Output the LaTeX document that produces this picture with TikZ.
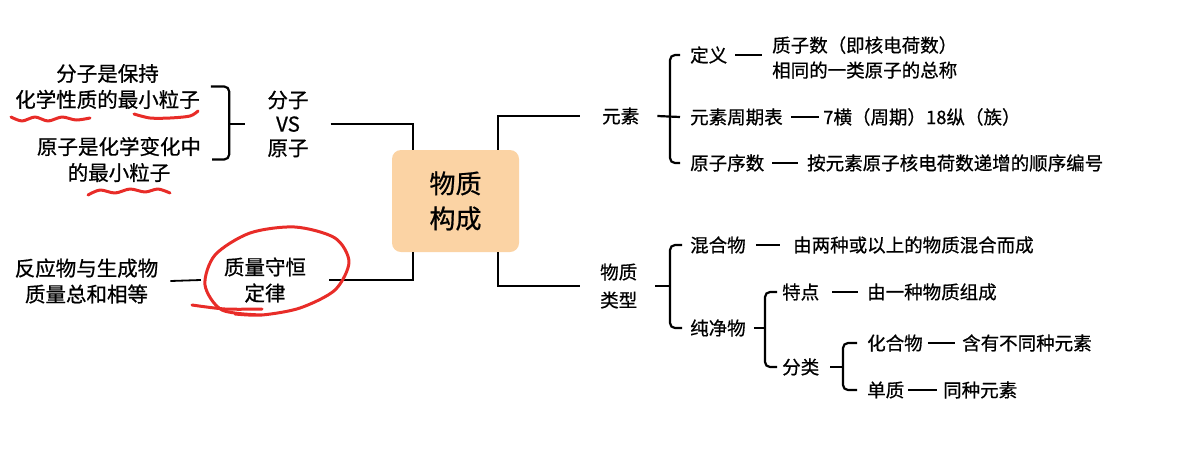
\documentclass[tikz,border=0pt]{standalone}
\usepackage{fontspec}
\setmainfont[FakeBold=0.7]{Noto Sans CJK SC}
\usetikzlibrary{positioning}
\definecolor{corefill}{RGB}{251,211,164}
\definecolor{penred}{RGB}{232,44,40}

\begin{document}
\begin{tikzpicture}[
  x=1pt, y=-1pt,
  lt/.style={inner sep=0pt,align=center,font=\fontsize{20.5}{26}\selectfont},
  rt/.style={inner sep=0pt,align=left,anchor=west,font=\fontsize{18.5}{25}\selectfont},
  ln/.style={line width=2.2pt},
  link/.style={line width=1.8pt},
  brace/.style={line width=2.2pt,rounded corners=5pt},
  redpen/.style={draw=penred,line width=3pt,line cap=round,line join=round}
]
\useasboundingbox (0,0) rectangle (1191,456);

\node[fill=corefill,rounded corners=9pt,minimum width=127pt,minimum height=102pt,
  align=center,font=\fontsize{26}{35}\selectfont] (core) at (455.5,201) {物质\\构成};

% left side
\node[lt] (m1) at (107.5,86.5) {分子是保持\\化学性质的最小粒子};
\node[lt] (m2) at (119,159.5) {原子是化学变化中\\的最小粒子};
\node[lt,font=\fontsize{20.5}{24}\selectfont] (vs) at (288,124) {分子\\VS\\原子};
\node[lt] (rl) at (86.5,281) {反应物与生成物\\质量总和相等};
\node[lt] (zl) at (265,280) {质量守恒\\定律};

\draw[brace] ([xshift=11pt]m1.east) -| ([xshift=28pt]m2.east) -- ([xshift=11pt]m2.east);
\draw[ln] ([xshift=-38pt]vs.west) -- ([xshift=-22pt]vs.west);
\draw[ln] ([xshift=22pt]vs.east) -| ([xshift=21pt]core.north west);
\draw[link] ([xshift=12pt]rl.east) -- ([xshift=-23pt]zl.west);
\draw[ln] ([xshift=23pt]zl.east) -| ([xshift=21pt]core.south west);

% right side: elements
\node[rt] (ys) at (602,116) {元素};
\node[rt] (def) at (690,55) {定义};
\node[rt] (per) at (690,117) {元素周期表};
\node[rt] (ord) at (690,163) {原子序数};
\node[rt] (defx) at (772,57.5) {质子数（即核电荷数）\\相同的一类原子的总称};
\node[rt] (perx) at (823,117) {7横（周期）18纵（族）};
\node[rt] (ordx) at (807,163) {按元素原子核电荷数递增的顺序编号};

\draw[ln] ([xshift=-21pt]core.north east) |- ([xshift=-22pt]ys.west);
\draw[brace] ([xshift=-10pt]def.west) -| ([xshift=-20pt]ord.west) -- ([xshift=-10pt]ord.west);
\draw[ln] ([xshift=18pt]ys.east) -- ([xshift=-10pt]per.west);
\draw[link] ([xshift=8pt]def.east) -- ([xshift=-10pt]def.east -| defx.west);
\draw[link] ([xshift=8pt]per.east) -- ([xshift=-4pt]perx.west);
\draw[link] ([xshift=8pt]ord.east) -- ([xshift=-9pt]ordx.west);

% right side: types
\node[rt,font=\fontsize{18.5}{28}\selectfont] (ts) at (600,286) {物质\\类型};
\node[rt] (mix) at (690,245) {混合物};
\node[rt] (pure) at (690,328) {纯净物};
\node[rt] (mixx) at (793,245) {由两种或以上的物质混合而成};
\node[rt] (feat) at (782,292) {特点};
\node[rt] (cls) at (782,367) {分类};
\node[rt] (featx) at (867,292) {由一种物质组成};
\node[rt] (cmp) at (867,343) {化合物};
\node[rt] (ele) at (867,390) {单质};
\node[rt] (cmpx) at (962,343) {含有不同种元素};
\node[rt] (elex) at (943,390) {同种元素};

\draw[ln] ([xshift=-21pt]core.south east) |- ([xshift=-20pt]ts.west);
\draw[brace] ([xshift=-8pt]mix.west) -| ([xshift=-20pt]pure.west) -- ([xshift=-8pt]pure.west);
\draw[ln] ([xshift=18pt]ts.east) -- ([xshift=-20pt]mix.west |- ts.east);
\draw[link] ([xshift=10pt]mix.east) -- ([xshift=-13pt]mixx.west);
\draw[brace] ([xshift=-5pt]feat.west) -| ([xshift=-17pt]cls.west) -- ([xshift=-5pt]cls.west);
\draw[ln] ([xshift=8pt]pure.east) -- ([xshift=-17pt]feat.west |- pure.east);
\draw[link] ([xshift=13pt]feat.east) -- ([xshift=-9pt]featx.west);
\draw[brace] ([xshift=-10pt]cmp.west) -| ([xshift=-24pt]ele.west) -- ([xshift=-10pt]ele.west);
\draw[ln] ([xshift=11pt]cls.east) -- ([xshift=-24pt]cmp.west |- cls.east);
\draw[link] ([xshift=5pt]cmp.east) -- ([xshift=-7pt]cmpx.west);
\draw[link] ([xshift=4pt]ele.east) -- ([xshift=-6pt]elex.west);

% red pen marks
\draw[redpen] plot[smooth] coordinates {(11,117) (22,121) (35,117) (48,121) (62,117) (76,120) (90,118)};
\draw[redpen] plot[smooth] coordinates {(134,114) (150,118) (170,118) (190,116) (198,111)};
\draw[redpen] plot[smooth] coordinates {(88,195) (100,190) (115,193) (130,189) (145,192) (158,189) (170,193)};
\draw[redpen] plot[smooth] coordinates {(192,305) (225,309) (262,309)};
\draw[redpen] plot[smooth] coordinates {(262,315) (222,310) (205,285) (215,255) (250,233) (295,227) (335,238) (349,262) (335,290) (300,308) (262,315) (235,314)};
\end{tikzpicture}
\end{document}
